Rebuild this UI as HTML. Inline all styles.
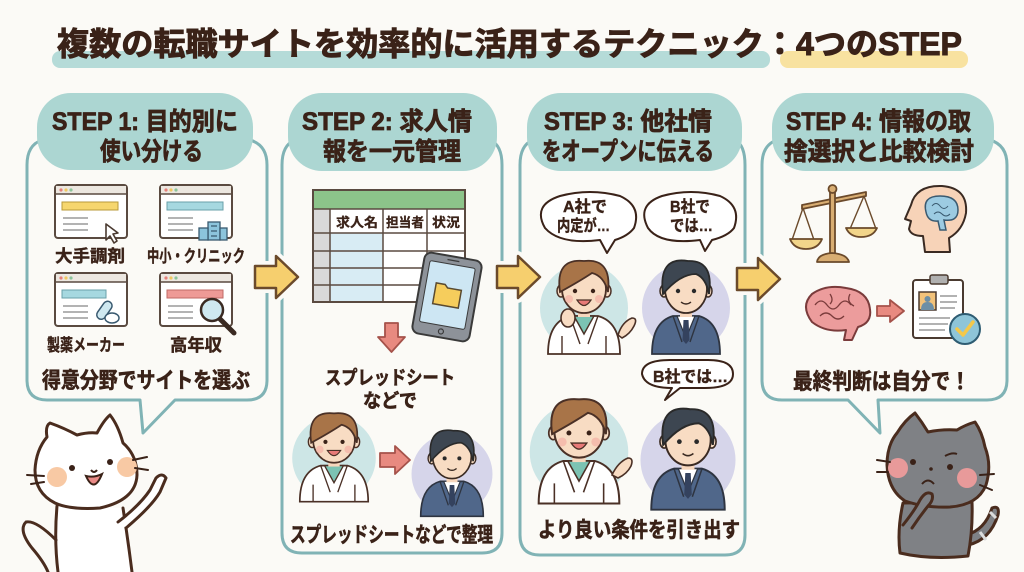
<!DOCTYPE html>
<html><head><meta charset="utf-8"><style>
html,body{margin:0;padding:0;background:#fbfaf6;}
svg{display:block;}
text{font-family:"Liberation Sans","Noto Sans CJK JP",sans-serif;font-weight:bold;fill:#3a2218;}
</style></head><body>
<svg width="1024" height="572" viewBox="0 0 1024 572" xmlns="http://www.w3.org/2000/svg">
<defs>
<g id="ph">
 <circle r="44" fill="#cde6e6"/>
 <path d="M-36 46 Q-36 14 -14 8 L14 8 Q36 14 36 46 Z" fill="#fff" stroke="#4a3026" stroke-width="1.8"/>
 <path d="M-10 8 L0 26 L10 8 Z" fill="#7cc3b3" stroke="#4a3026" stroke-width="1.4"/>
 <path d="M-14 8 L-4 36 M14 8 L4 36 M-22 28 L-22 46 M22 28 L22 46" stroke="#4a3026" stroke-width="1.4" fill="none"/>
 <rect x="-6" y="0" width="12" height="9" fill="#f7d7bd"/>
 <ellipse cx="-23" cy="-17" rx="4" ry="6" fill="#f8dcc3" stroke="#4a3026" stroke-width="1.5"/>
 <ellipse cx="23" cy="-17" rx="4" ry="6" fill="#f8dcc3" stroke="#4a3026" stroke-width="1.5"/>
 <ellipse cx="0" cy="-19" rx="22" ry="24" fill="#f8dcc3" stroke="#4a3026" stroke-width="1.8"/>
 <path d="M-24 -16 Q-29 -50 0 -47 Q28 -50 24 -16 Q20 -32 8 -35 Q-4 -27 -24 -16 Z" fill="#a87448" stroke="#4a3026" stroke-width="1.8"/>
 <circle cx="-9" cy="-17" r="2.2" fill="#3a2218"/>
 <circle cx="9" cy="-17" r="2.2" fill="#3a2218"/>
 <path d="M-7 -8 Q0 3 7 -8 Z" fill="#e87a78" stroke="#4a3026" stroke-width="1.2"/>
 <circle cx="-15" cy="-9" r="4" fill="#f4b5a8" opacity=".8"/>
 <circle cx="15" cy="-9" r="4" fill="#f4b5a8" opacity=".8"/>
</g>
<g id="bm">
 <circle r="44" fill="#d6d5ea"/>
 <path d="M-34 46 Q-34 14 -13 8 L13 8 Q34 14 34 46 Z" fill="#50678a" stroke="#2e3440" stroke-width="1.8"/>
 <path d="M-9 8 L0 30 L9 8 Z" fill="#fff" stroke="#2e3440" stroke-width="1.2"/>
 <path d="M-2.5 12 L2.5 12 L3.5 32 L0 36 L-3.5 32 Z" fill="#34425e"/>
 <path d="M-13 8 L-4 34 M13 8 L4 34" stroke="#2e3440" stroke-width="1.4" fill="none"/>
 <rect x="-6" y="0" width="12" height="9" fill="#f7d7bd"/>
 <ellipse cx="-22" cy="-17" rx="4" ry="6" fill="#f8dcc3" stroke="#3a2a22" stroke-width="1.5"/>
 <ellipse cx="22" cy="-17" rx="4" ry="6" fill="#f8dcc3" stroke="#3a2a22" stroke-width="1.5"/>
 <ellipse cx="0" cy="-19" rx="21" ry="24" fill="#f8dcc3" stroke="#3a2a22" stroke-width="1.8"/>
 <path d="M-23 -14 Q-28 -52 2 -47 Q28 -48 23 -14 Q20 -30 10 -34 Q-6 -34 -23 -14 Z" fill="#3d4651" stroke="#2a2a2a" stroke-width="1.8"/>
 <circle cx="-8" cy="-17" r="2.2" fill="#2a2a2a"/>
 <circle cx="8" cy="-17" r="2.2" fill="#2a2a2a"/>
 <path d="M-5 -6 Q0 -2 5 -6" fill="none" stroke="#3a2a22" stroke-width="1.4"/>
</g>
<g id="br">
 <rect x="0" y="0" width="72" height="53" rx="3" fill="#fff" stroke="#5a4a40" stroke-width="2"/>
 <rect x="1" y="1" width="70" height="8" fill="#ece7e0"/>
 <path d="M0 9 H72" stroke="#5a4a40" stroke-width="1.5"/>
 <circle cx="6" cy="5" r="1.6" fill="#e5807a"/><circle cx="11" cy="5" r="1.6" fill="#f0c860"/><circle cx="16" cy="5" r="1.6" fill="#8cc49a"/>
 <path d="M8 33 H33 M8 39 H33 M8 45 H33" stroke="#9a9a9a" stroke-width="1.6"/>
</g>
<path id="yarr" d="M0 11 L21 11 L21 1 L43 22 L21 43 L21 33 L0 33 Z"/>
</defs>

<!-- Title -->
<rect x="52" y="51" width="718" height="17" rx="8" fill="#b5dbd8"/>
<rect x="780" y="51" width="188" height="17" rx="8" fill="#f8e2a0"/>
<text x="57" y="55" font-size="32" textLength="905" lengthAdjust="spacingAndGlyphs" stroke="#3a2218" stroke-width="1">複数の転職サイトを効率的に活用するテクニック：4つのSTEP</text>

<!-- Panels -->
<g fill="none" stroke="#80b3b5" stroke-width="3" stroke-linejoin="round">
 <path d="M42 140 Q27 145 27 165 L27 380 Q27 400 47 400 L140 400 L143 433 L175 400 L247 400 Q267 400 267 380 L267 165 Q267 145 250 140"/>
 <path d="M295 140 Q282 145 282 165 L282 533 Q282 553 302 553 L482 553 Q502 553 502 533 L502 165 Q502 145 490 140"/>
 <path d="M533 140 Q520 145 520 165 L520 535 Q520 555 540 555 L725 555 Q745 555 745 535 L745 165 Q745 145 735 140"/>
 <path d="M777 140 Q762 145 762 165 L762 380 Q762 400 782 400 L848 400 L880 433 L878 400 L987 400 Q1007 400 1007 380 L1007 165 Q1007 145 990 140"/>
</g>

<!-- Header pills -->
<g fill="#acd6d2">
 <rect x="37" y="93" width="216" height="77" rx="34"/>
 <rect x="288" y="93" width="209" height="78" rx="34"/>
 <rect x="527" y="93" width="215" height="78" rx="34"/>
 <rect x="772" y="93" width="222" height="78" rx="34"/>
</g>
<g font-size="25" stroke="#3a2218" stroke-width="0.8">
 <text x="52" y="130" textLength="186" lengthAdjust="spacingAndGlyphs">STEP 1: 目的別に</text>
 <text x="100" y="160" textLength="103" lengthAdjust="spacingAndGlyphs">使い分ける</text>
 <text x="302" y="130" textLength="170" lengthAdjust="spacingAndGlyphs">STEP 2: 求人情</text>
 <text x="323" y="160" textLength="138" lengthAdjust="spacingAndGlyphs">報を一元管理</text>
 <text x="544" y="130" textLength="168" lengthAdjust="spacingAndGlyphs">STEP 3: 他社情</text>
 <text x="542" y="160" textLength="172" lengthAdjust="spacingAndGlyphs">をオープンに伝える</text>
 <text x="786" y="130" textLength="185" lengthAdjust="spacingAndGlyphs">STEP 4: 情報の取</text>
 <text x="784" y="160" textLength="190" lengthAdjust="spacingAndGlyphs">捨選択と比較検討</text>
</g>

<!-- Yellow arrows with halos -->
<g stroke="#fbfaf6" stroke-width="10" fill="#fbfaf6" stroke-linejoin="round">
 <use href="#yarr" transform="translate(255,255)"/>
 <use href="#yarr" transform="translate(497,255)"/>
 <use href="#yarr" transform="translate(737,257)"/>
</g>
<g stroke="#6b4a2b" stroke-width="2.5" fill="#f6cf6e" stroke-linejoin="round">
 <use href="#yarr" transform="translate(255,255)"/>
 <use href="#yarr" transform="translate(497,255)"/>
 <use href="#yarr" transform="translate(737,257)"/>
</g>

<!-- Panel 1 icons -->
<use href="#br" transform="translate(55,185)"/>
<rect x="62" y="202" width="56" height="8" fill="#f6d66e" stroke="#b89a3a" stroke-width="1"/>
<path d="M106 224 L106 240 L110 236 L114 243 L117 241 L113 234 L118 233 Z" fill="#fff" stroke="#4a3a30" stroke-width="1.6" stroke-linejoin="round"/>
<use href="#br" transform="translate(160,185)"/>
<rect x="167" y="202" width="56" height="8" fill="#a6d8e0" stroke="#6aa0aa" stroke-width="1"/>
<g fill="#8cc4dc" stroke="#3a5a70" stroke-width="1.3"><rect x="208" y="222" width="12" height="18"/><rect x="199" y="228" width="9" height="12"/><rect x="220" y="228" width="7" height="12"/></g>
<path d="M211 226 h6 M211 231 h6 M211 236 h6" stroke="#3a5a70" stroke-width="1.2"/>
<use href="#br" transform="translate(55,273)"/>
<rect x="62" y="290" width="44" height="8" fill="#a6d8e0" stroke="#6aa0aa" stroke-width="1"/>
<g stroke="#3a5a70" stroke-width="1.5" fill="#cfe8f0"><rect x="100" y="300" width="9" height="20" rx="4.5" transform="rotate(35 104 310)"/><ellipse cx="112" cy="318" rx="7" ry="5" fill="#fff"/></g>
<use href="#br" transform="translate(160,273)"/>
<rect x="167" y="290" width="56" height="8" fill="#ee9a96" stroke="#c06a66" stroke-width="1"/>
<path d="M220 319 L234 333" stroke="#3a2a22" stroke-width="5" stroke-linecap="round"/>
<circle cx="212" cy="310" r="11" fill="#cfe8f0" stroke="#3a2a22" stroke-width="2.5"/>

<g stroke="#3a2218" stroke-width="0.4">
 <text x="55" y="262" font-size="17" textLength="70" lengthAdjust="spacingAndGlyphs">大手調剤</text>
 <text x="147" y="262" font-size="17" textLength="98" lengthAdjust="spacingAndGlyphs">中小・クリニック</text>
 <text x="47" y="351" font-size="17" textLength="78" lengthAdjust="spacingAndGlyphs">製薬メーカー</text>
 <text x="170" y="351" font-size="17" textLength="52" lengthAdjust="spacingAndGlyphs">高年収</text>
 <text x="42" y="388" font-size="22" textLength="208" lengthAdjust="spacingAndGlyphs" stroke-width="0.6">得意分野でサイトを選ぶ</text>
</g>

<!-- Panel 2 spreadsheet -->
<rect x="313" y="190" width="152" height="112" fill="#fff" stroke="#5a4a40" stroke-width="2"/>
<rect x="314" y="191" width="150" height="18" fill="#8cc48a"/>
<rect x="314" y="209" width="16" height="92" fill="#d9d9d9"/>
<rect x="330" y="233" width="53" height="68" fill="#d8ecf4"/>
<g stroke="#5a4a40" stroke-width="1.5" fill="none">
 <path d="M313 209 H465 M313 233 H465 M313 251 H465 M313 268 H465 M313 285 H465"/>
 <path d="M330 209 V302 M383 209 V302 M427 209 V302"/>
</g>
<g stroke="#3a2218" stroke-width="0.3">
<text x="336" y="227" font-size="13" textLength="42" lengthAdjust="spacingAndGlyphs">求人名</text>
<text x="386" y="227" font-size="13" textLength="38" lengthAdjust="spacingAndGlyphs">担当者</text>
<text x="432" y="227" font-size="13" textLength="28" lengthAdjust="spacingAndGlyphs">状況</text>
</g>
<!-- tablet -->
<g transform="translate(447,297) rotate(10)">
 <rect x="-29" y="-41" width="58" height="82" rx="7" fill="#8d9299" stroke="#3a3a3a" stroke-width="2"/>
 <rect x="-23" y="-33" width="46" height="62" rx="2" fill="#cde6f3" stroke="#3a3a3a" stroke-width="1"/>
 <path d="M-13 -12 h9 l3 3 h14 v18 h-26 z" fill="#f6cd5c" stroke="#5a4a30" stroke-width="1.5"/>
 <circle cx="0" cy="35" r="2.5" fill="none" stroke="#3a3a3a" stroke-width="1.2"/>
 <path d="M-6 -37 h12" stroke="#3a3a3a" stroke-width="1.2"/>
</g>
<!-- red down arrow -->
<path d="M385 323 H398 V337 H405 L391.5 352 L378 337 H385 Z" fill="#e88a80" stroke="#a5524a" stroke-width="1.8" stroke-linejoin="round"/>
<text x="325" y="384" font-size="19" textLength="130" lengthAdjust="spacingAndGlyphs" stroke="#3a2218" stroke-width="0.6">スプレッドシート</text>
<text x="363" y="407" font-size="19" textLength="54" lengthAdjust="spacingAndGlyphs" stroke="#3a2218" stroke-width="0.6">などで</text>
<use href="#ph" transform="translate(334,458) scale(0.95)"/>
<use href="#bm" transform="translate(452,474) scale(0.92)"/>
<path d="M380 453 H395 V446 L410 460 L395 474 V467 H380 Z" fill="#e88a80" stroke="#a5524a" stroke-width="1.8" stroke-linejoin="round"/>
<text x="290" y="542" font-size="21" textLength="203" lengthAdjust="spacingAndGlyphs" stroke="#3a2218" stroke-width="0.6">スプレッドシートなどで整理</text>

<!-- Panel 3 -->
<g fill="#fff" stroke="#3a2218" stroke-width="2" stroke-linejoin="round">
 <path d="M600 240 Q560 245 545 228 Q532 205 560 196 Q590 188 620 196 Q642 206 634 228 Q628 236 615 240 L607 253 Z"/>
 <path d="M700 240 Q660 245 648 228 Q636 205 662 196 Q691 188 720 196 Q742 206 734 228 Q728 236 712 240 L705 251 Z"/>
 <path d="M672 388 Q645 388 642 374 Q642 360 670 360 L708 360 Q733 360 733 374 Q733 388 705 388 L680 388 L665 400 Z"/>
</g>
<g stroke="#3a2218" stroke-width="0.4">
<text x="563" y="212" font-size="16" textLength="44" lengthAdjust="spacingAndGlyphs">A社で</text>
<text x="557" y="231" font-size="16" textLength="53" lengthAdjust="spacingAndGlyphs">内定が…</text>
<text x="670" y="212" font-size="16" textLength="40" lengthAdjust="spacingAndGlyphs">B社で</text>
<text x="670" y="231" font-size="16" textLength="43" lengthAdjust="spacingAndGlyphs">では…</text>
<text x="653" y="382" font-size="16" textLength="75" lengthAdjust="spacingAndGlyphs">B社では…</text>
</g>
<use href="#ph" transform="translate(584,308)"/>
<use href="#bm" transform="translate(686,308)"/>
<use href="#ph" transform="translate(579,452) scale(1.12)"/>
<use href="#bm" transform="translate(688,460) scale(1.08)"/>
<g fill="#f8dcc3" stroke="#4a3026" stroke-width="1.6">
 <ellipse cx="568" cy="318" rx="7" ry="9"/>
 <path d="M618 335 Q622 322 632 318 Q638 318 634 326 Q630 334 622 338 Z"/>
 <path d="M612 475 Q618 462 628 458 Q634 458 631 466 Q627 474 618 478 Z"/>
</g>
<text x="538" y="537" font-size="21" textLength="202" lengthAdjust="spacingAndGlyphs" stroke="#3a2218" stroke-width="0.6">より良い条件を引き出す</text>

<!-- Panel 4 icons -->
<g stroke="#6b4a2b" stroke-width="1.8" stroke-linejoin="round">
 <path d="M802 205 L866 192 L866 196 L802 209 Z" fill="#d8ad72"/>
 <rect x="830" y="190" width="5" height="64" fill="#d8ad72"/>
 <circle cx="832.5" cy="189" r="4" fill="#d8ad72"/>
 <path d="M817 262 Q818 254 832 253 Q847 254 849 262 Z" fill="#d8ad72"/>
 <path d="M803 208 L792 240 M803 208 L814 240 M864 196 L850 229 M864 196 L876 229" fill="none" stroke-width="1.4"/>
 <path d="M790 239 H822 Q818 249 806 249 Q794 249 790 239 Z" fill="#f2d58a"/>
 <path d="M846 228 H877 Q873 237 861 237 Q850 237 846 228 Z" fill="#f2d58a"/>
</g>
<path d="M950 252 L949 238 Q963 230 966 213 Q968 188 942 186 Q916 185 911 205 L905 219 L911 221 L909 229 Q911 236 923 236 L925 252 Z" fill="#f7d3b8" stroke="#3a2a22" stroke-width="2" stroke-linejoin="round"/>
<path d="M926 212 Q922 196 940 196 Q958 196 958 210 Q958 222 944 220 L946 230 L940 230 L938 221 Q928 222 926 212 Z" fill="#9ccbe2" stroke="#3a5a70" stroke-width="1.5"/>
<path d="M932 206 q4 -5 8 0 q4 5 8 0 M934 214 q4 -4 8 0 q4 4 8 0" fill="none" stroke="#3a5a70" stroke-width="1"/>
<path d="M812 322 Q800 306 812 294 Q826 284 846 288 Q868 291 870 309 Q872 323 858 327 L852 340 L844 340 L846 330 Q826 333 812 322 Z" fill="#ec9c9c" stroke="#7a3b3b" stroke-width="2" stroke-linejoin="round"/>
<path d="M815 305 q6 -8 12 0 q6 8 12 0 q6 -8 12 0 M820 316 q6 -6 12 0 q6 6 12 0 M830 294 q4 6 0 10 M850 294 q-4 8 4 12" fill="none" stroke="#7a3b3b" stroke-width="1.3"/>
<path d="M877 306 H890 V300 L904 311 L890 322 V316 H877 Z" fill="#e88a80" stroke="#a5524a" stroke-width="1.8" stroke-linejoin="round"/>
<rect x="913" y="280" width="50" height="58" rx="3" fill="#fff" stroke="#4a3a30" stroke-width="2"/>
<rect x="930" y="275" width="18" height="9" rx="2" fill="#b0b0b0" stroke="#4a3a30" stroke-width="1.5"/>
<rect x="919" y="292" width="17" height="18" fill="#f2c27a" stroke="#4a3a30" stroke-width="1.5"/>
<path d="M921 310 Q921 302 927.5 302 Q934 302 934 310 Z" fill="#6d8fa5"/><circle cx="927.5" cy="299" r="3" fill="#6d8fa5"/>
<path d="M940 296 H957 M940 302 H957 M940 308 H955 M919 318 H950 M919 324 H948 M919 330 H945" stroke="#999" stroke-width="1.6"/>
<circle cx="965" cy="329" r="15" fill="#8ec5d8" stroke="#2e5c72" stroke-width="2"/>
<path d="M957 329 L963 335 L973 322" fill="none" stroke="#f4c84a" stroke-width="3.5" stroke-linecap="round" stroke-linejoin="round"/>
<text x="793" y="389" font-size="22" textLength="177" lengthAdjust="spacingAndGlyphs" stroke="#3a2218" stroke-width="0.6">最終判断は自分で！</text>

<!-- White cat -->
<g stroke="#4a2c1e" stroke-width="3" stroke-linecap="round" stroke-linejoin="round" fill="#fff">
 <path d="M57 506 Q54 540 58 572 L132 572 Q128 540 123 508 Z" stroke="none"/>
 <path d="M57 506 Q54 540 58 572 M123 508 Q128 540 132 572" fill="none"/>
 <path d="M56 540 Q36 520 26 522 Q18 530 32 548 Q44 562 48 572" fill="none"/>
 <path d="M118 522 Q140 505 150 490 L156 478 Q162 472 166 478 L160 492 Q152 506 126 528" fill="#fff"/>
 <path d="M47 437 Q45 426 50 423 Q64 428 77 435 Q88 432 97 433 Q104 420 110 415 Q118 425 123 443 Q137 455 137 475 Q136 500 100 508 Q70 510 55 503 Q35 493 35 470 Q36 450 47 437 Z"/>
</g>
<circle cx="57" cy="477" r="10" fill="#f8c9a4"/>
<circle cx="127" cy="467" r="10" fill="#f8c9a4"/>
<circle cx="72" cy="468" r="3" fill="#3a2218"/>
<circle cx="110" cy="462" r="3" fill="#3a2218"/>
<path d="M91 470 Q94 474 97 470" fill="none" stroke="#3a2218" stroke-width="2"/>
<path d="M86 476 Q94 494 102 474 Q94 478 86 476 Z" fill="#ea8a86" stroke="#3a2218" stroke-width="2"/>
<g stroke="#3a2218" stroke-width="2" stroke-linecap="round">
 <path d="M27 475 L44 476 M31 484 L44 482 M133 460 L147 457 M135 468 L148 470"/>
</g>

<!-- Gray cat -->
<g stroke="#4a2c1e" stroke-width="3" stroke-linecap="round" stroke-linejoin="round" fill="#7f8185">
 <path d="M968 545 Q990 540 998 515 Q1000 505 992 508 Q985 530 966 535" fill="#7f8185"/>
 <path d="M903 503 Q897 530 900 553 Q930 560 968 556 Q973 530 972 502 Z"/>
 <path d="M897 433 Q905 420 915 413 Q922 422 928 432 Q942 429 957 430 Q965 425 975 422 Q982 432 985 447 Q992 465 986 485 Q978 505 950 507 Q925 508 905 501 Q888 490 887 465 Q887 445 897 433 Z"/>
 <path d="M903 525 Q915 510 920 500 Q926 490 932 494 Q934 500 928 506 Q920 516 912 528"/>
</g>
<path d="M990 512 L996 518 M980 532 L986 540" stroke="#dcdcdc" stroke-width="3"/>
<circle cx="898" cy="468" r="10" fill="#e89a9a"/>
<circle cx="967" cy="478" r="10" fill="#e89a9a"/>
<circle cx="913" cy="462" r="3" fill="#3a2218"/>
<circle cx="950" cy="467" r="3" fill="#3a2218"/>
<path d="M945 456 Q952 452 957 454" fill="none" stroke="#3a2218" stroke-width="2"/>
<circle cx="931" cy="469" r="1.8" fill="#3a2218"/>
<path d="M922 484 Q928 477 934 484" fill="none" stroke="#3a2218" stroke-width="2"/>
<g stroke="#3a2218" stroke-width="2" stroke-linecap="round">
 <path d="M877 460 L890 462 M877 472 L888 472 M980 475 L994 474 M980 485 L992 490"/>
</g>
</svg>
</body></html>
